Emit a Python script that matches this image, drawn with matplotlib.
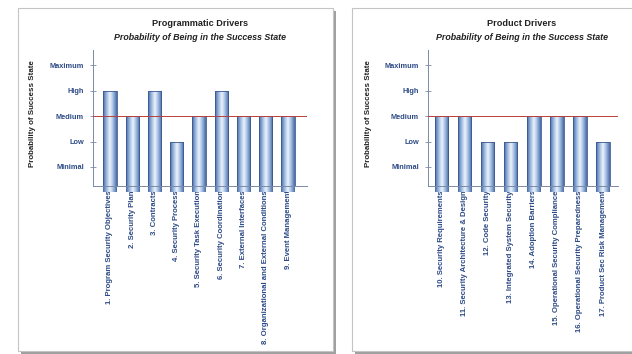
import numpy as np
import matplotlib
matplotlib.use('Agg')
import matplotlib.pyplot as plt
from matplotlib.patches import Rectangle
from matplotlib.colors import LinearSegmentedColormap

plt.rcParams['font.family'] = ['Liberation Sans', 'DejaVu Sans']

# Rating scale shared by both charts
levels = ['Minimal', 'Low', 'Medium', 'High', 'Maximum']
level_values = [1, 2, 3, 4, 5]
threshold = 3

prog_labels = [
    '1. Program Security Objectives',
    '2. Security Plan',
    '3. Contracts',
    '4. Security Process',
    '5. Security Task Execution',
    '6. Security Coordination',
    '7. External Interfaces',
    '8. Organizational and External Conditions',
    '9. Event Management',
]
prog_values = [4, 3, 4, 2, 3, 4, 3, 3, 3]

prod_labels = [
    '10. Security Requirements',
    '11. Security Architecture & Design',
    '12. Code Security',
    '13. Integrated System Security',
    '14. Adoption Barriers',
    '15. Operational Security Compliance',
    '16. Operational Security Preparedness',
    '17. Product Sec Risk Management',
]
prod_values = [3, 3, 2, 2, 3, 3, 3, 2]

W, H = 632, 354
fig = plt.figure(figsize=(W / 100, H / 100), dpi=100)
fig.patch.set_facecolor('white')

label_blue = '#2c4a86'
bar_cmap = LinearSegmentedColormap.from_list(
    'barshade', ['#4a6aa2', '#9ab8e0', '#eef3fb', '#9ab8e0', '#4a6aa2'])


def px_rect(x0, y0, x1, y1):
    # pixel box (top-left origin) -> figure fraction rect
    return [x0 / W, 1 - y1 / H, (x1 - x0) / W, (y1 - y0) / H]


def panel(x0, y0, x1, y1):
    # drop shadow then white card
    sx, sy, sw, sh = px_rect(x0 + 3, y0 + 3, x1 + 3, y1 + 3)
    fig.patches.append(Rectangle((sx, sy), sw, sh, transform=fig.transFigure,
                                 facecolor='#a0a0a0', edgecolor='none', zorder=0))
    bx, by, bw, bh = px_rect(x0, y0, x1, y1)
    fig.patches.append(Rectangle((bx, by), bw, bh, transform=fig.transFigure,
                                 facecolor='white', edgecolor='#c4c4c4',
                                 linewidth=0.8, zorder=0.5))


def draw_chart(rect, labels, values, width, xlim, title, cx, ylabel_x):
    ax = fig.add_axes(rect, zorder=2)
    ax.set_facecolor('none')
    x = np.arange(len(values))
    bars = ax.bar(x, values, width=width, color='none', edgecolor='#3a5890',
                  linewidth=0.6, zorder=3)
    grad = np.linspace(0, 1, 64).reshape(1, -1)
    for b in bars:
        bx0, by0 = b.get_x(), b.get_y()
        im = ax.imshow(grad, cmap=bar_cmap, aspect='auto', zorder=2,
                       extent=[bx0, bx0 + b.get_width(), by0, by0 + b.get_height()])
        im.set_clip_path(b)

    ax.axhline(threshold, color='#b8403a', linewidth=0.7, zorder=4)
    ax.set_xlim(*xlim)
    ax.set_ylim(0.25, 5.6)

    ax.set_yticks(level_values)
    ax.set_yticklabels(levels, fontsize=5.3, fontweight='bold', color=label_blue)
    ax.tick_params(axis='y', direction='inout', length=5, width=0.6,
                   color='#7a8aa8', pad=4)
    ax.set_xticks(x)
    ax.set_xticklabels(labels, rotation=90, fontsize=5.6, fontweight='bold',
                       color=label_blue, va='top', ha='center')
    ax.tick_params(axis='x', length=0, pad=3)

    for s in ['top', 'right']:
        ax.spines[s].set_visible(False)
    for s in ['left', 'bottom']:
        ax.spines[s].set_color('#7a8aa8')
        ax.spines[s].set_linewidth(0.7)

    fig.text(cx / W, 1 - 23 / H, title, ha='center', va='center',
             fontsize=6.6, fontweight='bold', color='#222222', zorder=3)
    fig.text(cx / W, 1 - 37 / H, 'Probability of Being in the Success State',
             ha='center', va='center', fontsize=6.4, fontweight='bold',
             style='italic', color='#222222', zorder=3)
    fig.text(ylabel_x / W, 1 - 114 / H, 'Probability of Success State',
             rotation=90, ha='center', va='center', fontsize=5.7,
             fontweight='bold', color='#222222', zorder=3)
    return ax


panel(18, 8, 333, 351)
panel(352, 8, 645, 351)

draw_chart(px_rect(93, 50, 307, 186), prog_labels, prog_values, 0.6,
           (-0.76, 8.85), 'Programmatic Drivers', 200, 32)
draw_chart(px_rect(428, 50, 618, 186), prod_labels, prod_values, 0.57,
           (-0.6, 7.65), 'Product Drivers', 522, 368)

fig.savefig('out.png', dpi=100)
